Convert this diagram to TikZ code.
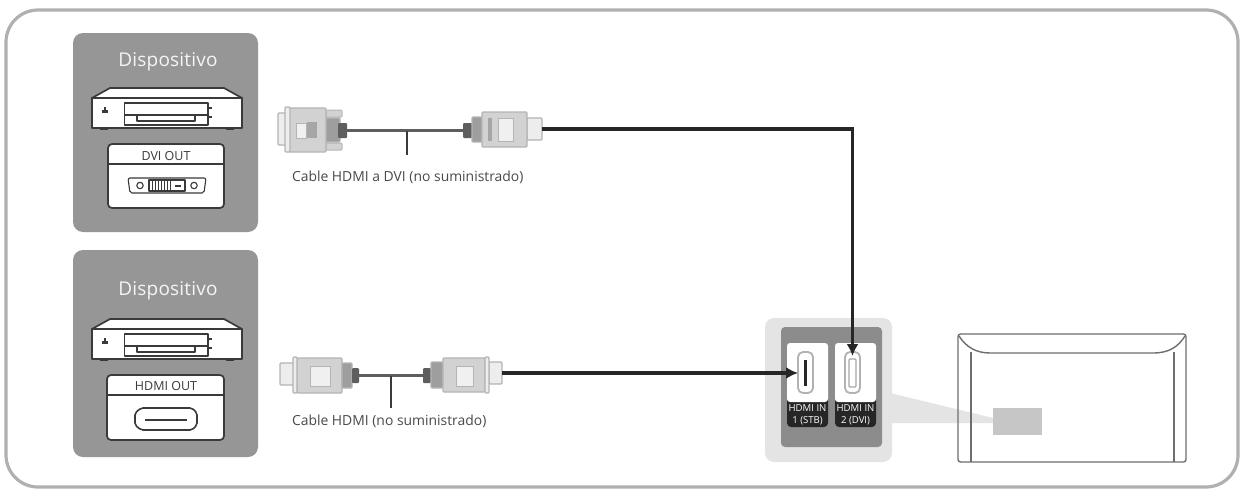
\documentclass[tikz,border=0pt]{standalone}
\usepackage{fontspec}
\setmainfont{Open Sans}
\usetikzlibrary{arrows.meta,calc}
\definecolor{frameg}{HTML}{B0B0B0}
\definecolor{panelg}{HTML}{969696}
\definecolor{linek}{HTML}{3A3A3A}
\definecolor{halo}{HTML}{E4E4E4}
\definecolor{darkp}{HTML}{8C8C8C}
\definecolor{spot}{HTML}{C6C6C6}
\definecolor{plugline}{HTML}{B4B4B4}
\definecolor{plugfill}{HTML}{D2D2D2}
\definecolor{plugdark}{HTML}{5E5E5E}
\definecolor{tvline}{HTML}{6E6E6E}
\definecolor{textg}{HTML}{4A4A4A}
\tikzset{
  every node/.style={inner sep=0pt,outer sep=0pt},
  frame/.style={draw=frameg,line width=3.2pt,rounded corners=32pt},
  panel/.style={fill=panelg,rounded corners=10pt},
  devtitle/.style={text=white!90!panelg,font=\fontsize{19}{22}\selectfont\addfontfeatures{LetterSpace=1}},
  devline/.style={draw=linek,line width=1.7pt,line join=round},
  devbody/.style={devline,fill=white},
  portbox/.style={devline,fill=white,rounded corners=4pt},
  portlabel/.style={text=linek,font=\fontsize{12.5}{14}\selectfont},
  plug/.style={fill=plugfill,draw=plugline,line width=1.2pt,rounded corners=1pt},
  plugpale/.style={fill=white!93!black,draw=plugline,line width=1.2pt,rounded corners=1pt},
  plugwin/.style={fill=white!94!black,draw=plugline,line width=1pt},
  plugwing/.style={fill=white!65!black,draw=none},
  strain/.style={fill=plugdark,rounded corners=1pt},
  thincable/.style={draw=plugdark,line width=3.2pt},
  leader/.style={draw=linek,line width=1.4pt},
  blackcable/.style={draw=black!85,line width=3.2pt,-{Latex[length=12pt,width=12pt]}},
  callout/.style={text=textg,font=\fontsize{13.9}{16}\selectfont},
  lighttray/.style={fill=halo,rounded corners=9pt},
  darktray/.style={fill=darkp,rounded corners=4pt},
  jackw/.style={fill=white,rounded corners=3pt},
  jackk/.style={fill=black!85,rounded corners=4pt},
  jacktext/.style={text=white,font=\fontsize{9.6}{12}\selectfont,align=center},
  slot/.style={draw=white!70!black,line width=1.8pt,fill=white,rounded corners=5pt},
  tv/.style={draw=tvline,line width=1.4pt,line join=round},
  wedge/.style={fill=halo},
  spotbox/.style={fill=spot}
}
% box from corners: style, name, x1,y1,x2,y2
\newcommand{\cornerbox}[6]{\node[#1,minimum width={(#5-#3)*1pt},minimum height={(#6-#4)*1pt}] (#2) at ({(#3+#5)/2},{(#4+#6)/2}) {};}
% player drawing: downward offset
\newcommand{\player}[1]{%
  \begin{scope}[yshift=-#1pt]
    \draw[devbody] (92,98) -- (110,88) -- (224,88) -- (242,98) -- cycle;
    \draw[devbody] (92,98) rectangle (242,128);
    \draw[devline] (124.5,103) rectangle (208,125);
    \draw[devline] (124.5,115) -- (137,115) -- (137,121) -- (195,121) -- (195,115) -- (208,115);
    \draw[devline,line width=1.1pt] (137,115) -- (195,115);
    \fill[linek] (102,109.5) rectangle (108,113);
    \fill[linek] (104,106.5) rectangle (106,109.5);
    \fill[linek] (208,107) rectangle (211.5,109);
    \fill[linek] (208,116) rectangle (211.5,118);
    \fill[linek] (100,128) rectangle (108,130);
    \fill[linek] (226,128) rectangle (234,130);
  \end{scope}}
\begin{document}
\begin{tikzpicture}[x=1pt,y=-1pt]
\useasboundingbox (0,0) rectangle (1243,490);
\fill[white] (0,0) rectangle (1243,490);
\draw[frame] (6,10) rectangle (1238,487);

% device panels
\cornerbox{panel}{panelA}{73}{33}{258}{232}
\cornerbox{panel}{panelB}{73}{250}{258}{457}
\node[devtitle] (titleA) at (168,62) {Dispositivo};
\node[devtitle] (titleB) at (168,291) {Dispositivo};
\player{0}
\player{231}

% DVI OUT box
\cornerbox{portbox}{dviBox}{108}{144}{224}{208}
\draw[devline] (dviBox.west |- 0,164) -- (dviBox.east |- 0,164);
\node[portlabel] (dviLabel) at (166,156) {DVI OUT};
\draw[devline,line width=1.1pt,rounded corners=2pt] (128,178) -- (206,178) -- (204,193) -- (130,193) -- cycle;
\draw[linek,line width=1.1pt] (140,185.5) circle (3.2);
\draw[linek,line width=1.1pt] (194,185.5) circle (3.2);
\draw[devline,line width=1.1pt,fill=white] (149,180) rectangle (185,191);
\foreach \px in {152,155,...,170}{\draw[linek,line width=1pt] (\px,181) -- (\px,190);}
\fill[linek] (175,184.5) rectangle (181,187);

% HDMI OUT box
\cornerbox{portbox}{hdmiBox}{107}{375}{224}{440}
\draw[devline] (hdmiBox.west |- 0,395) -- (hdmiBox.east |- 0,395);
\node[portlabel] (hdmiLabel) at (166,386) {HDMI OUT};
\draw[devline,line width=1.6pt,rounded corners=2pt] (141,408) -- (192,408) -- (197,413) -- (197,425) -- (192,430) -- (141,430) -- (135,425) -- (135,413) -- cycle;
\draw[devline,line width=1.8pt] (145,420) -- (187,420);

% DVI plug
\cornerbox{plugpale}{dviTip}{278}{113}{286}{145}
\draw[plugline,line width=1pt,fill=plugfill,rounded corners=1pt] (326,110) rectangle (342,117);
\draw[plugline,line width=1pt,fill=plugfill,rounded corners=1pt] (326,143) rectangle (342,150);
\cornerbox{plug,fill=white!62!black}{dviMid}{322}{118}{340}{142}
\cornerbox{plug}{dviBody}{289}{108}{326}{152}
\cornerbox{plugpale}{dviFlange}{285}{107}{290}{152}
\cornerbox{plugwin}{dviWinA}{296}{123}{306}{138}
\cornerbox{plugwing}{dviWinB}{307}{122}{317}{138}
\cornerbox{strain}{dviStrain}{338}{123}{347}{138}

% right plug of the DVI cable
\cornerbox{strain}{hdA}{463}{123}{472}{138}
\cornerbox{plug,fill=white!62!black}{hdAStep}{472}{117}{482}{142}
\cornerbox{plugpale}{hdATip}{527}{118}{542}{140}
\cornerbox{plug}{hdABody}{482}{112}{527}{147}
\cornerbox{plugwin}{hdAWin}{498}{118}{513}{141}
\cornerbox{plugwing}{hdABar}{488}{118}{492}{141}

% HDMI left plug
\cornerbox{plugpale}{hbTip}{280}{363}{294}{385}
\cornerbox{plug}{hbBody}{297}{358}{342}{393}
\cornerbox{plugpale}{hbFlange}{293}{357}{297}{393}
\cornerbox{plugwin}{hbWin}{310}{366}{330}{386}
\cornerbox{plug,fill=white!62!black}{hbStep}{342}{363}{352}{388}
\cornerbox{strain}{hbStrain}{352}{368}{359}{383}

% HDMI right plug
\cornerbox{strain}{hcStrain}{423}{368}{431}{383}
\cornerbox{plug,fill=white!62!black}{hcStep}{431}{362}{443}{388}
\cornerbox{plugpale}{hcTip}{489}{362}{502}{384}
\cornerbox{plug}{hcBody}{443}{358}{485}{392}
\cornerbox{plugpale}{hcFlange}{485}{357}{489}{393}
\cornerbox{plugwin}{hcWin}{456}{366}{473}{386}

% thin cables and leaders
\draw[thincable] (dviStrain.east) -- (hdA.west);
\draw[thincable] (hbStrain.east) -- (hcStrain.west);
\coordinate (leadA) at (407,155);
\coordinate (leadB) at (391,408);
\draw[leader] (leadA) -- (leadA |- dviStrain.east);
\draw[leader] (leadB) -- (leadB |- hbStrain.east);
\node[callout,anchor=west] (calloutA) at (292,177) {Cable HDMI a DVI (no suministrado)};
\node[callout,anchor=west] (calloutB) at (292,421) {Cable HDMI (no suministrado)};

% TV and its port area
\fill[wedge] (890,393) -- (993,418) -- (993,423) -- (890,423) -- cycle;
\draw[tv,rounded corners=2.5pt] (958,334) rectangle (1186,462);
\draw[tv] (971,462) -- (971,352);
\draw[tv] (1174,462) -- (1174,352);
\draw[tv] (959,336) .. controls (966,347) and (976,353) .. (990,353) -- (1153,353) .. controls (1169,353) and (1178,347) .. (1185,336);
\cornerbox{spotbox}{spot}{993}{408}{1042}{435}

% port tray
\cornerbox{lighttray}{tray}{765}{318}{892}{462}
\cornerbox{darktray}{dark}{781}{327}{882}{447}
\cornerbox{jackk}{jackKa}{787}{395}{828}{427}
\cornerbox{jackk}{jackKb}{835}{395}{876}{427}
\cornerbox{jackw}{jackWa}{787}{343}{828}{402}
\cornerbox{jackw}{jackWb}{835}{343}{876}{402}
\cornerbox{slot}{slotA}{798}{352}{813}{393}
\cornerbox{slot}{slotB}{845}{352}{860}{393}
\draw[black!85,line width=2.6pt] (slotA.center |- 0,360) -- (slotA.center |- 0,386);
\draw[white!65!black,line width=1.2pt,rounded corners=1pt] (849,359) rectangle (856,387);
\node[jacktext] (jackTa) at (807.5,414.5) {HDMI IN\\1 (STB)};
\node[jacktext] (jackTb) at (855.5,414.5) {HDMI IN\\2 (DVI)};

% black cables with arrows
\draw[blackcable] (hdATip.east) -| ([yshift=-4pt]slotB.north);
\draw[blackcable] (hcTip.east) -- (slotA.west |- hcTip.east);
\end{tikzpicture}
\end{document}
